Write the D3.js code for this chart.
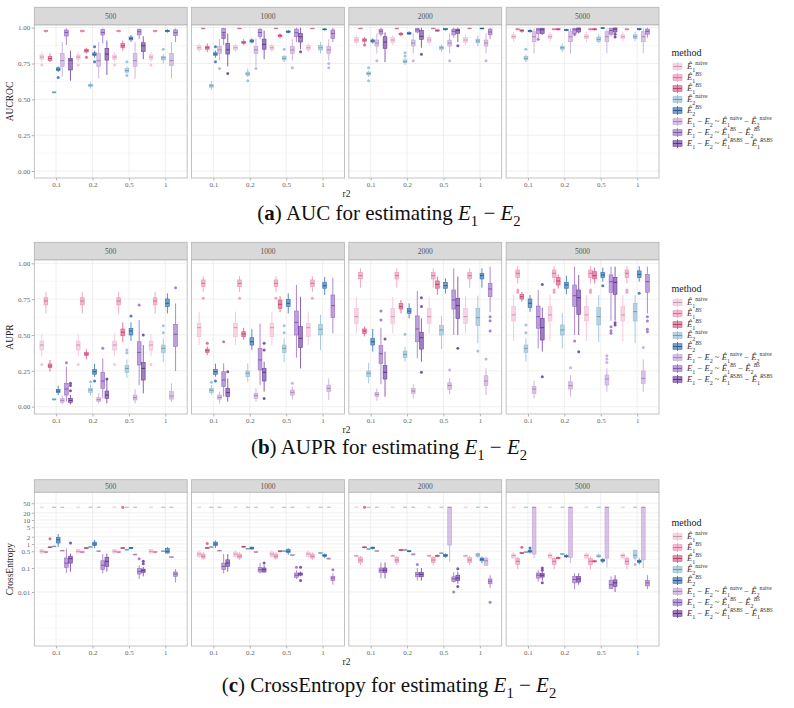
<!DOCTYPE html>
<html><head><meta charset="utf-8">
<script src="https://cdn.jsdelivr.net/npm/d3@7"></script>
<style>body{margin:0;background:#fff} text{white-space:pre}</style>
</head><body>
<svg id="chart" width="794" height="708"></svg>
<script>
// ---------------- DATA ----------------
const facets = ["500", "1000", "2000", "5000"];
const r2Levels = ["0.1", "0.2", "0.5", "1"];
const methodColors = ["#f2bcd6", "#ee93b7", "#d9537f", "#90bcd3", "#2e6fb0", "#c3a3d8", "#9a6cc7", "#6a3a9c"];
const methodLabels = [
  [["Ê","i"],["1","sub"],["naive","sup"]],
  [["Ê","i"],["1","sub"],["BS","supi"]],
  [["Ê","i"],["1","sub"],["BS","supi"]],
  [["Ê","i"],["2","sub"],["naive","sup"]],
  [["Ê","i"],["2","sub"],["BS","supi"]],
  [["E","i"],["1","sub"],[" − ","n"],["E","i"],["2","sub"],[" ~ ","n"],["Ê","i"],["1","sub"],["naive","sup"],[" − ","n"],["Ê","i"],["2","sub"],["naive","sup"]],
  [["E","i"],["1","sub"],[" − ","n"],["E","i"],["2","sub"],[" ~ ","n"],["Ê","i"],["1","sub"],["BS","supi"],[" − ","n"],["Ê","i"],["2","sub"],["BS","supi"]],
  [["E","i"],["1","sub"],[" − ","n"],["E","i"],["2","sub"],[" ~ ","n"],["Ê","i"],["1","sub"],["RSBS","supi"],[" − ","n"],["Ê","i"],["1","sub"],["RSBS","supi"]]
];
// box stats per method: 16 cells (facet-major: 500,1000,2000,5000 x r2 0.1,0.2,0.5,1) -> [lower whisker, q1, median, q3, upper whisker]
const aucStats = [
  [[.76,.78,.795,.81,.83],[.76,.78,.795,.81,.83],[.76,.78,.795,.81,.83],[.76,.78,.795,.81,.83],
   [.83,.845,.86,.875,.89],[.83,.845,.86,.875,.89],[.83,.845,.86,.875,.89],[.83,.845,.86,.875,.89],
   [.88,.897,.914,.933,.95],[.88,.897,.914,.933,.95],[.88,.897,.914,.933,.95],[.88,.897,.914,.933,.95],
   [.90,.925,.937,.95,.97],[.90,.925,.937,.95,.97],[.90,.925,.937,.95,.97],[.90,.925,.937,.95,.97]],
  [[.965,.972,.977,.982,.987],[.965,.972,.977,.982,.987],[.965,.972,.977,.982,.987],[.965,.972,.977,.982,.987],
   [.99,.993,.995,.997,.999],[.99,.993,.995,.997,.999],[.99,.993,.995,.997,.999],[.99,.993,.995,.997,.999],
   [.99,.993,.995,.997,.999],[.99,.993,.995,.997,.999],[.99,.993,.995,.997,.999],[.99,.993,.995,.997,.999],
   [.98,.985,.989,.993,.997],[.98,.985,.989,.993,.997],[.98,.985,.989,.993,.997],[.98,.985,.989,.993,.997]],
  [[.76,.77,.785,.80,.82],[.82,.83,.84,.85,.86],[.84,.86,.874,.89,.91],null,
   [.83,.85,.86,.87,.89],[.88,.89,.898,.905,.92],[.925,.937,.944,.95,.96],null,
   [.89,.905,.914,.922,.935],[.94,.95,.956,.962,.97],[.97,.976,.98,.985,.99],null,
   [.965,.975,.98,.985,.99],[.98,.985,.989,.993,.997],[.98,.985,.989,.993,.997],null],
  [[.54,.545,.549,.553,.56],[.575,.59,.598,.605,.62],[.68,.69,.70,.715,.73],[.75,.775,.79,.80,.815],
   [.565,.585,.595,.605,.63],[.655,.668,.677,.69,.716],[.76,.775,.786,.80,.81],[.82,.845,.86,.875,.90],
   [.655,.67,.68,.69,.70],[.74,.755,.763,.775,.79],[.83,.85,.86,.87,.885],[.87,.895,.907,.92,.945],
   [.76,.775,.786,.80,.815],[.83,.85,.86,.87,.89],[.89,.905,.919,.935,.955],[.905,.925,.937,.95,.97]],
  [[.69,.70,.71,.72,.73],[.79,.805,.814,.825,.84],[.90,.915,.925,.935,.95],[.965,.972,.977,.982,.99],
   [.79,.808,.816,.825,.84],[.89,.90,.907,.915,.925],[.96,.967,.972,.977,.985],[.98,.985,.988,.992,.996],
   [.89,.90,.907,.915,.925],[.95,.955,.96,.967,.975],[.98,.985,.99,.994,.998],[.99,.993,.995,.997,.999],
   [.965,.972,.977,.982,.99],[.975,.98,.984,.988,.993],[.99,.996,.998,.999,1],[.98,.986,.99,.994,.998]],
  [[.66,.73,.77,.82,.90],[.646,.73,.77,.82,.90],[.645,.73,.77,.82,.90],[.645,.735,.77,.82,.90],
   [.77,.82,.845,.87,.92],[.73,.82,.845,.868,.925],[.77,.82,.845,.87,.92],[.77,.82,.845,.87,.92],
   [.82,.872,.893,.914,.96],[.82,.872,.893,.914,.96],[.82,.872,.893,.914,.96],[.82,.872,.893,.914,.96],
   [.82,.902,.937,.972,.995],[.82,.902,.937,.972,.995],[.82,.902,.937,.972,.995],[.82,.902,.937,.972,.995]],
  [[.88,.942,.967,.984,.995],[.89,.949,.967,.988,.995],[.92,.95,.972,.988,.995],[.90,.945,.965,.985,.995],
   [.88,.925,.967,.995,1],[.92,.94,.967,.988,1],[.90,.937,.965,.99,1],[.90,.925,.96,.984,1],
   [.94,.956,.975,.989,1],[.96,.97,.985,.995,1],[.93,.95,.975,.99,1],[.92,.95,.97,.99,1],
   [.93,.96,.985,.995,1],[.94,.96,.985,.995,1],[.94,.955,.98,.995,1],[.93,.955,.975,.99,1]],
  [[.63,.705,.774,.786,.84],[.67,.774,.816,.856,.91],[.78,.833,.874,.895,.94],null,
   [.73,.816,.845,.89,.96],[.78,.85,.884,.92,.98],[.85,.90,.937,.96,1],null,
   [.76,.856,.90,.937,.967],[.86,.919,.94,.98,1],[.90,.96,.98,.99,1],null,
   [.95,.96,.985,.995,1],[.96,.97,.99,.998,1],[.96,.97,.99,.998,1],null]
];
// outliers: [method, cell, value]
const aucOutliers = [
  [0,0,.74],[0,1,.74],[0,2,.74],[0,3,.74],
  [2,1,.793],[2,8,.879],
  [3,2,.763],[3,2,.667],[3,3,.849],[3,5,.63],[3,6,.85],[3,8,.72],[3,8,.63],[3,9,.826],[3,9,.803],[3,12,.85],
  [4,0,.653],[4,1,.867],[4,1,.763],[4,4,.867],[4,4,.763],
  [5,4,.716],[5,5,.716],[5,6,.72],[5,7,.75],[5,7,.72],[5,8,.77],[5,9,.77],[5,10,.77],[5,11,.77],
  [6,4,.95],[6,4,.93],[6,12,.92],[6,13,.955],
  [7,4,.68],[7,6,.833],[7,9,.814],[7,10,.874],[7,14,.955],[7,14,.935]
];
const auprStats = [
  [[.35,.395,.43,.458,.505],[.35,.395,.43,.458,.505],[.35,.395,.43,.458,.505],[.35,.395,.43,.458,.505],
   [.43,.488,.551,.581,.663],[.43,.488,.551,.581,.663],[.43,.488,.551,.581,.663],[.43,.488,.551,.581,.663],
   [.512,.581,.628,.686,.767],[.512,.581,.628,.686,.767],[.512,.581,.628,.686,.767],[.512,.581,.628,.686,.767],
   [.458,.598,.64,.698,.779],[.458,.598,.64,.698,.779],[.458,.598,.64,.698,.779],[.458,.598,.64,.698,.779]],
  [[.65,.71,.737,.76,.80],[.65,.71,.737,.76,.80],[.65,.71,.737,.76,.80],[.65,.71,.737,.76,.80],
   [.80,.837,.86,.884,.91],[.80,.837,.86,.884,.91],[.80,.837,.86,.884,.91],[.80,.837,.86,.884,.91],
   [.83,.891,.914,.937,.965],[.83,.891,.914,.937,.965],[.83,.891,.914,.937,.965],[.83,.891,.914,.937,.965],
   [.86,.90,.93,.953,.98],[.86,.90,.93,.953,.98],[.86,.90,.93,.953,.98],[.86,.90,.93,.953,.98]],
  [[.245,.272,.284,.298,.326],[.33,.356,.367,.379,.40],[.449,.495,.519,.542,.588],null,
   [.36,.379,.391,.402,.42],[.467,.488,.507,.523,.551],[.66,.686,.714,.744,.77],null,
   [.49,.512,.528,.542,.56],[.65,.681,.698,.721,.744],[.78,.826,.853,.877,.907],null,
   [.733,.751,.767,.784,.80],[.824,.849,.877,.90,.923],[.86,.891,.914,.942,.97],null],
  [[.04,.047,.051,.055,.06],[.08,.10,.116,.128,.155],[.20,.24,.267,.286,.33],[.31,.379,.407,.43,.477],
   [.08,.10,.114,.128,.151],[.174,.209,.233,.249,.302],[.31,.379,.407,.43,.477],[.395,.50,.54,.574,.64],
   [.163,.209,.233,.249,.307],[.314,.342,.365,.388,.419],[.402,.50,.535,.565,.63],[.442,.565,.621,.686,.774],
   [.314,.379,.407,.43,.477],[.407,.50,.535,.57,.651],[.451,.57,.628,.691,.779],[.442,.598,.663,.721,.779]],
  [[.081,.098,.109,.121,.147],[.207,.226,.244,.26,.30],[.458,.50,.528,.546,.588],[.651,.698,.721,.751,.79],
   [.209,.226,.244,.26,.30],[.395,.43,.453,.481,.54],[.651,.698,.721,.749,.79],[.779,.826,.844,.865,.905],
   [.384,.43,.453,.477,.542],[.616,.651,.667,.686,.721],[.79,.826,.844,.867,.895],[.83,.891,.914,.93,.965],
   [.661,.691,.721,.751,.779],[.784,.826,.849,.867,.914],[.872,.90,.919,.937,.97],[.872,.90,.923,.947,.98]],
  [[.016,.03,.044,.058,.081],[.023,.035,.049,.063,.093],[.023,.047,.063,.081,.121],[.035,.053,.074,.105,.163],
   [.023,.053,.065,.081,.105],[.035,.058,.077,.093,.128],[.049,.081,.10,.116,.14],[.047,.105,.128,.151,.198],
   [.042,.07,.086,.10,.128],[.058,.093,.109,.128,.156],[.086,.121,.147,.167,.198],[.081,.147,.179,.216,.267],
   [.058,.093,.123,.14,.181],[.07,.123,.147,.174,.221],[.105,.151,.193,.221,.267],[.105,.163,.198,.249,.33]],
  [[.035,.081,.123,.163,.28],[.058,.128,.179,.24,.337],[.151,.291,.379,.453,.605],[.249,.419,.505,.574,.72],
   [.07,.14,.186,.244,.302],[.151,.256,.326,.407,.58],[.342,.50,.588,.667,.849],[.512,.621,.705,.779,.90],
   [.156,.302,.37,.426,.551],[.337,.453,.542,.633,.807],[.50,.681,.744,.814,.965],[.66,.767,.821,.86,.977],
   [.407,.547,.628,.702,.814],[.50,.698,.774,.849,.977],[.60,.798,.872,.919,.977],[.65,.798,.872,.923,.977]],
  [[.016,.03,.044,.058,.081],[.023,.058,.081,.109,.198],[.093,.186,.267,.309,.43],null,
   [.035,.07,.098,.128,.198],[.105,.179,.24,.267,.314],[.267,.412,.477,.558,.767],null,
   [.07,.193,.24,.286,.384],[.314,.402,.481,.519,.616],[.50,.616,.705,.756,.907],null,
   [.384,.465,.551,.616,.691],[.50,.644,.76,.814,.919],[.60,.784,.867,.902,.977],null]
];
const auprOutliers = [
  [0,0,.295],[0,1,.295],[0,2,.295],[0,3,.295],
  [1,4,.756],[1,5,.756],[1,6,.756],[1,7,.756],[1,12,.814],[1,12,.798],[1,13,.814],[1,13,.798],[1,14,.814],[1,14,.798],[1,15,.814],[1,15,.798],
  [2,4,.442],
  [3,1,.174],[3,2,.395],[3,2,.377],[3,3,.565],[3,3,.516],[3,4,.17],[3,6,.565],[3,6,.516],[3,9,.505],[3,11,.388],[3,12,.57],[3,12,.516],
  [4,1,.18],[4,2,.633],[4,4,.18],[4,14,.844],[4,15,.791],
  [5,6,.163],[5,10,.256],[5,11,.333],[5,13,.272],[5,14,.356],[5,14,.333],[5,14,.309],[5,15,.412],
  [6,0,.307],[6,1,.407],[6,2,.709],[6,3,.83],[6,4,.453],[6,8,.667],[6,8,.605],[6,11,.628],[6,11,.60],[6,11,.528],[6,13,.458],[6,14,.558],[6,14,.53],[6,14,.512],[6,15,.628],[6,15,.598],[6,15,.54],[6,15,.523],
  [7,0,.163],[7,0,.147],[7,0,.112],[7,1,.193],[7,2,.50],[7,4,.244],[7,5,.442],[7,5,.395],[7,5,.058],[7,8,.472],[7,9,.76],[7,9,.698],[7,9,.24],[7,10,.407],[7,12,.853],[7,12,.209],[7,13,.384],[7,14,.586],[7,14,.57]
];
const ceStats = [
  [[.40,.42,.495,.58,.62],[.40,.42,.495,.58,.62],[.40,.42,.495,.58,.62],[.40,.42,.495,.58,.62],
   [.26,.30,.38,.46,.55],[.26,.30,.38,.46,.55],[.26,.30,.38,.46,.55],[.26,.30,.38,.46,.55],
   [.28,.30,.32,.34,.37],[.28,.30,.32,.34,.37],[.28,.30,.32,.34,.37],[.28,.30,.32,.34,.37],
   [.25,.26,.33,.38,.45],[.25,.26,.33,.38,.45],[.25,.26,.33,.38,.45],[.25,.26,.33,.38,.45]],
  [[.40,.44,.46,.49,.53],[.40,.44,.46,.49,.53],[.40,.44,.46,.49,.53],[.40,.44,.46,.49,.53],
   [.22,.26,.31,.38,.45],[.22,.26,.31,.38,.45],[.22,.26,.31,.38,.45],[.22,.26,.31,.38,.45],
   [.13,.17,.215,.27,.32],[.13,.17,.215,.27,.32],[.13,.17,.215,.27,.32],[.13,.17,.215,.27,.32],
   [.09,.138,.19,.245,.30],[.09,.138,.19,.245,.30],[.09,.138,.19,.245,.30],[.09,.138,.19,.245,.30]],
  [[.68,.70,.73,.76,.78],[.62,.65,.68,.71,.74],[.62,.65,.68,.71,.74],null,
   [.62,.65,.68,.71,.74],[.70,.74,.77,.80,.83],[.45,.48,.50,.52,.55],null,
   [.66,.70,.73,.76,.80],[.50,.53,.56,.59,.62],[.28,.30,.32,.34,.37],null,
   [.38,.40,.42,.44,.47],[.23,.25,.26,.28,.30],[.17,.18,.19,.20,.22],null],
  [[.75,.78,.80,.82,.85],[.70,.73,.75,.77,.80],[.54,.56,.58,.60,.63],[.46,.48,.50,.52,.55],
   [.70,.73,.75,.77,.80],[.60,.62,.64,.66,.69],[.46,.48,.50,.52,.55],[.39,.41,.42,.44,.46],
   [.57,.60,.62,.64,.67],[.52,.54,.56,.58,.61],[.38,.40,.41,.43,.45],[.26,.30,.35,.41,.45],
   [.42,.44,.46,.48,.51],[.35,.37,.38,.40,.42],[.26,.29,.31,.35,.40],[.20,.26,.34,.53,.60]],
  [[.75,1.1,1.5,1.9,2.6],[.68,.85,1.0,1.2,1.5],[.60,.64,.68,.72,.75],[.40,.42,.50,.64,.75],
   [.68,.85,1.0,1.2,1.4],[.58,.62,.68,.74,.77],[.36,.44,.50,.58,.67],[.26,.30,.33,.36,.40],
   [.58,.64,.70,.74,.78],[.45,.48,.50,.52,.55],[.27,.30,.33,.37,.41],[.16,.20,.23,.26,.30],
   [.40,.46,.50,.55,.66],[.26,.29,.31,.34,.37],[.16,.19,.21,.23,.26],[.14,.17,.19,.21,.25]],
  [[.49,.51,.53,.55,.58],[.46,.48,.50,.52,.55],[.33,.35,.36,.38,.40],[.26,.27,.28,.30,.31],
   [.49,.51,.53,.55,.58],[.42,.44,.46,.48,.51],[.31,.33,.34,.36,.38],[.22,.235,.245,.26,.27],
   [.47,.49,.51,.53,.56],[.33,.35,.37,.39,.41],[.18,.9,34,34,34],[.12,.13,.20,.25,.30],
   [.26,.38,34,34,34],[.16,.28,34,34,34],[.107,.26,34,34,34],[.10,.22,34,34,34]],
  [[.062,.107,.16,.26,.64],[.06,.085,.13,.20,.38],[.035,.056,.072,.094,.13],[.025,.045,.056,.068,.09],
   [.06,.085,.117,.16,.38],[.06,.068,.085,.106,.16],[.035,.041,.05,.062,.08],[.02,.03,.038,.045,.06],
   [.037,.066,.08,.10,.17],[.03,.043,.054,.066,.10],[.025,.027,.035,.043,.066],[.015,.022,.028,.035,.05],
   [.027,.038,.05,.062,.08],[.013,.024,.033,.045,.06],[.013,.014,.02,.03,.045],[.013,.018,.024,.03,.05]],
  [[.07,.16,.245,.31,.40],[.07,.118,.19,.28,.40],[.045,.065,.077,.09,.11],null,
   [.07,.117,.16,.22,.38],[.065,.068,.085,.10,.13],[.045,.05,.057,.062,.07],null,
   [.037,.066,.08,.10,.17],[.03,.043,.054,.066,.10],[.022,.03,.038,.05,.07],null,
   [.03,.042,.05,.06,.07],[.02,.026,.035,.045,.06],[.01,.017,.024,.032,.05],null]
];
const ceOutliers = [
  [2,0,1.65],[2,2,34],[2,4,1.05],[2,8,34],[2,12,.73],
  [3,15,.14],[4,12,.68],
  [6,2,.245],[6,6,.107],[6,7,.085],[6,9,.14],[6,10,.01],[6,11,.0037],
  [7,0,1.1],[7,2,.19],[7,2,.15],[7,5,.16],[7,6,.107],[7,6,.03],[7,10,.094],[7,10,.017],[7,12,.10],[7,12,.08],[7,12,.024]
];
// flat "dash" marks at the capped cross-entropy value: [method, cell]
const ceDashValue = 34;
const ceDashes = [
  [0,0],[0,1],[0,2],[0,3],[0,4],[0,5],[0,6],[0,7],[0,8],[0,9],[0,10],[0,11],[0,12],[0,13],[0,14],[0,15],
  [3,0],[3,1],[3,2],[3,3],[3,4],[3,5],[3,6],[3,7],[3,8],[3,9],[3,10],[3,11],[3,12],[3,13],[3,14],[3,15],
  [5,0],[5,1],[5,2],[5,3],[5,4],[5,5],[5,6],[5,7],[5,8],[5,9],[5,11]
];
const aucTicks = [0, 0.25, 0.5, 0.75, 1];
const ceTicks = [0.01, 0.1, 0.5, 1, 2, 5, 10, 20, 50];

// ---------------- DRAWING ----------------
const FONT = "'Liberation Serif','DejaVu Serif',serif";
const svg = d3.select("#chart");
const facetScale = d3.scaleBand().domain(facets).range([34.3, 659]).paddingInner(0.028);

function richText(parent, x, y, segs, size, anchor, color) {
  const t = parent.append("text").attr("x", x).attr("y", y).attr("font-family", FONT)
    .attr("font-size", size).attr("fill", color).attr("text-anchor", anchor);
  let cur = 0;
  segs.forEach(([s, type]) => {
    let off = 0, fs = size, style = "normal", weight = "normal";
    if (type === "i") style = "italic";
    if (type === "b") weight = "bold";
    if (type === "sub") { off = size * 0.3; fs = size * 0.7; }
    if (type === "sup" || type === "supi") { off = -size * 0.45; fs = size * 0.66; if (type === "supi") style = "italic"; }
    t.append("tspan").attr("dy", off - cur).attr("font-size", fs).attr("font-style", style)
      .attr("font-weight", weight).text(s);
    cur = off;
  });
  return t;
}

function drawPanel(p) {
  const g = svg.append("g");
  const y = p.y;
  facets.forEach((f, fi) => {
    const x0 = facetScale(f), w = facetScale.bandwidth();
    g.append("rect").attr("x", x0).attr("y", p.stripTop).attr("width", w).attr("height", p.panelTop - p.stripTop)
      .attr("fill", "#d9d9d9").attr("stroke", "#b3b3b3").attr("stroke-width", 0.8);
    g.append("text").attr("x", x0 + w / 2).attr("y", (p.stripTop + p.panelTop) / 2 + 2.6)
      .attr("text-anchor", "middle").attr("font-family", FONT).attr("font-size", 7.5).attr("fill", "#555").text(f);
    g.append("rect").attr("x", x0).attr("y", p.panelTop).attr("width", w).attr("height", p.panelBottom - p.panelTop).attr("fill", "#fff");
    const xs = d3.scalePoint().domain(r2Levels).range([x0, x0 + w]).padding(0.6);
    const inner = d3.scaleBand().domain(d3.range(8)).range([-0.45 * xs.step(), 0.45 * xs.step()]);
    const bw = inner.bandwidth() * 0.92;
    p.minor.forEach(v => {
      const yy = y(v);
      if (yy < p.panelTop || yy > p.panelBottom) return;
      g.append("line").attr("x1", x0).attr("x2", x0 + w).attr("y1", yy).attr("y2", yy).attr("stroke", "#f0f0f0").attr("stroke-width", 0.5);
    });
    p.ticks.forEach(v => {
      g.append("line").attr("x1", x0).attr("x2", x0 + w).attr("y1", y(v)).attr("y2", y(v)).attr("stroke", "#e6e6e6").attr("stroke-width", 0.6);
    });
    r2Levels.forEach(r => {
      g.append("line").attr("x1", xs(r)).attr("x2", xs(r)).attr("y1", p.panelTop).attr("y2", p.panelBottom).attr("stroke", "#e6e6e6").attr("stroke-width", 0.6);
    });
    const cx = (cell, m) => xs(r2Levels[cell % 4]) + inner(m) + inner.bandwidth() / 2;
    if (p.dashes) {
      p.dashes.filter(d => Math.floor(d[1] / 4) === fi).forEach(([m, cell]) => {
        const c = cx(cell, m);
        g.append("line").attr("x1", c - bw / 2).attr("x2", c + bw / 2).attr("y1", y(p.dashValue)).attr("y2", y(p.dashValue))
          .attr("stroke", methodColors[m]).attr("stroke-width", 1.1).attr("opacity", 0.9);
      });
    }
    p.stats.forEach((arr, m) => {
      const col = methodColors[m];
      const dark = d3.color(col).darker(0.7).formatHex();
      arr.forEach((s, cell) => {
        if (!s || Math.floor(cell / 4) !== fi) return;
        const c = cx(cell, m);
        const [lo, q1, med, q3, hi] = s;
        g.append("line").attr("x1", c).attr("x2", c).attr("y1", y(hi)).attr("y2", y(q3)).attr("stroke", col).attr("stroke-width", 0.8);
        g.append("line").attr("x1", c).attr("x2", c).attr("y1", y(q1)).attr("y2", y(lo)).attr("stroke", col).attr("stroke-width", 0.8);
        const top = y(q3), bot = y(q1);
        g.append("rect").attr("x", c - bw / 2).attr("y", top).attr("width", bw).attr("height", Math.max(bot - top, 0.8))
          .attr("fill", col).attr("fill-opacity", 0.65).attr("stroke", col).attr("stroke-width", 0.6);
        g.append("line").attr("x1", c - bw / 2).attr("x2", c + bw / 2).attr("y1", y(med)).attr("y2", y(med))
          .attr("stroke", dark).attr("stroke-width", 0.9);
      });
    });
    p.outliers.filter(o => Math.floor(o[1] / 4) === fi).forEach(([m, cell, v]) => {
      g.append("circle").attr("cx", cx(cell, m)).attr("cy", y(v)).attr("r", 1.5)
        .attr("fill", methodColors[m]).attr("opacity", 0.85);
    });
    g.append("rect").attr("x", x0).attr("y", p.panelTop).attr("width", w).attr("height", p.panelBottom - p.panelTop)
      .attr("fill", "none").attr("stroke", "#b3b3b3").attr("stroke-width", 0.8);
    const xa = g.append("g").attr("transform", `translate(0,${p.panelBottom})`).call(d3.axisBottom(xs).tickSize(2.5).tickPadding(2));
    xa.select(".domain").remove();
    xa.selectAll("line").attr("stroke", "#b3b3b3");
    xa.selectAll("text").attr("font-family", FONT).attr("font-size", 7).attr("fill", "#666");
  });
  const ya = g.append("g").attr("transform", `translate(${facetScale(facets[0])},0)`)
    .call(d3.axisLeft(y).tickValues(p.ticks).tickFormat(p.fmt).tickSize(2.5).tickPadding(1.5));
  ya.select(".domain").remove();
  ya.selectAll("line").attr("stroke", "#b3b3b3");
  ya.selectAll("text").attr("font-family", FONT).attr("font-size", 7).attr("fill", "#666");
  g.append("text").attr("transform", `translate(13,${(p.panelTop + p.panelBottom) / 2}) rotate(-90)`)
    .attr("text-anchor", "middle").attr("font-family", FONT).attr("font-size", 9.5).attr("fill", "#222").text(p.yTitle);
  g.append("text").attr("x", 346.5).attr("y", p.panelBottom + 18.5).attr("text-anchor", "middle")
    .attr("font-family", FONT).attr("font-size", 9.5).attr("fill", "#222").text("r2");
  g.append("text").attr("x", 671.5).attr("y", p.legendTop).attr("font-family", FONT).attr("font-size", 10).attr("fill", "#222").text("method");
  methodColors.forEach((col, m) => {
    const cy = p.legendTop + 11 + 11 * m;
    const lx = 677.5;
    g.append("line").attr("x1", lx).attr("x2", lx).attr("y1", cy - 4.5).attr("y2", cy + 4.5).attr("stroke", col).attr("stroke-width", 0.8);
    g.append("rect").attr("x", lx - 4.5).attr("y", cy - 2.8).attr("width", 9).attr("height", 5.6)
      .attr("fill", col).attr("fill-opacity", 0.65).attr("stroke", col).attr("stroke-width", 0.6);
    g.append("line").attr("x1", lx - 4.5).attr("x2", lx + 4.5).attr("y1", cy).attr("y2", cy).attr("stroke", d3.color(col).darker(0.7).formatHex()).attr("stroke-width", 0.9);
    richText(g, 687, cy + 2.7, methodLabels[m], 8.6, "start", "#333");
  });
  richText(g, 389, p.captionY, p.caption, 21, "middle", "#111");
}

const yA = d3.scaleLinear().domain([0, 1]).range([171, 27.7]);
const yB = d3.scaleLinear().domain([0, 1]).range([406.7, 263.3]);
const yC = d3.scaleLog().domain([0.01, 100]).range([592, 496]);

drawPanel({ stats: aucStats, outliers: aucOutliers, y: yA, stripTop: 7.3, panelTop: 25, panelBottom: 178,
  ticks: aucTicks, minor: [0.125, 0.375, 0.625, 0.875], fmt: d3.format(".2f"), yTitle: "AUCROC",
  legendTop: 55.5, captionY: 220,
  caption: [["(", "n"], ["a", "b"], [") AUC for estimating ", "n"], ["E", "i"], ["1", "sub"], [" − ", "n"], ["E", "i"], ["2", "sub"]] });
drawPanel({ stats: auprStats, outliers: auprOutliers, y: yB, stripTop: 242.3, panelTop: 260, panelBottom: 414,
  ticks: aucTicks, minor: [0.125, 0.375, 0.625, 0.875], fmt: d3.format(".2f"), yTitle: "AUPR",
  legendTop: 291.5, captionY: 454,
  caption: [["(", "n"], ["b", "b"], [") AUPR for estimating ", "n"], ["E", "i"], ["1", "sub"], [" − ", "n"], ["E", "i"], ["2", "sub"]] });
drawPanel({ stats: ceStats, outliers: ceOutliers, dashes: ceDashes, dashValue: ceDashValue, y: yC, stripTop: 479.7, panelTop: 492.3, panelBottom: 646,
  ticks: ceTicks, minor: [0.0001, 0.000316, 0.001, 0.00316, 0.0316, 0.2236, 0.7071, 1.414, 3.162, 7.071, 14.14, 31.62],
  fmt: d => String(d), yTitle: "CrossEntropy",
  legendTop: 525.5, captionY: 692,
  caption: [["(", "n"], ["c", "b"], [") CrossEntropy for estimating ", "n"], ["E", "i"], ["1", "sub"], [" − ", "n"], ["E", "i"], ["2", "sub"]] });
</script>
</body></html>
